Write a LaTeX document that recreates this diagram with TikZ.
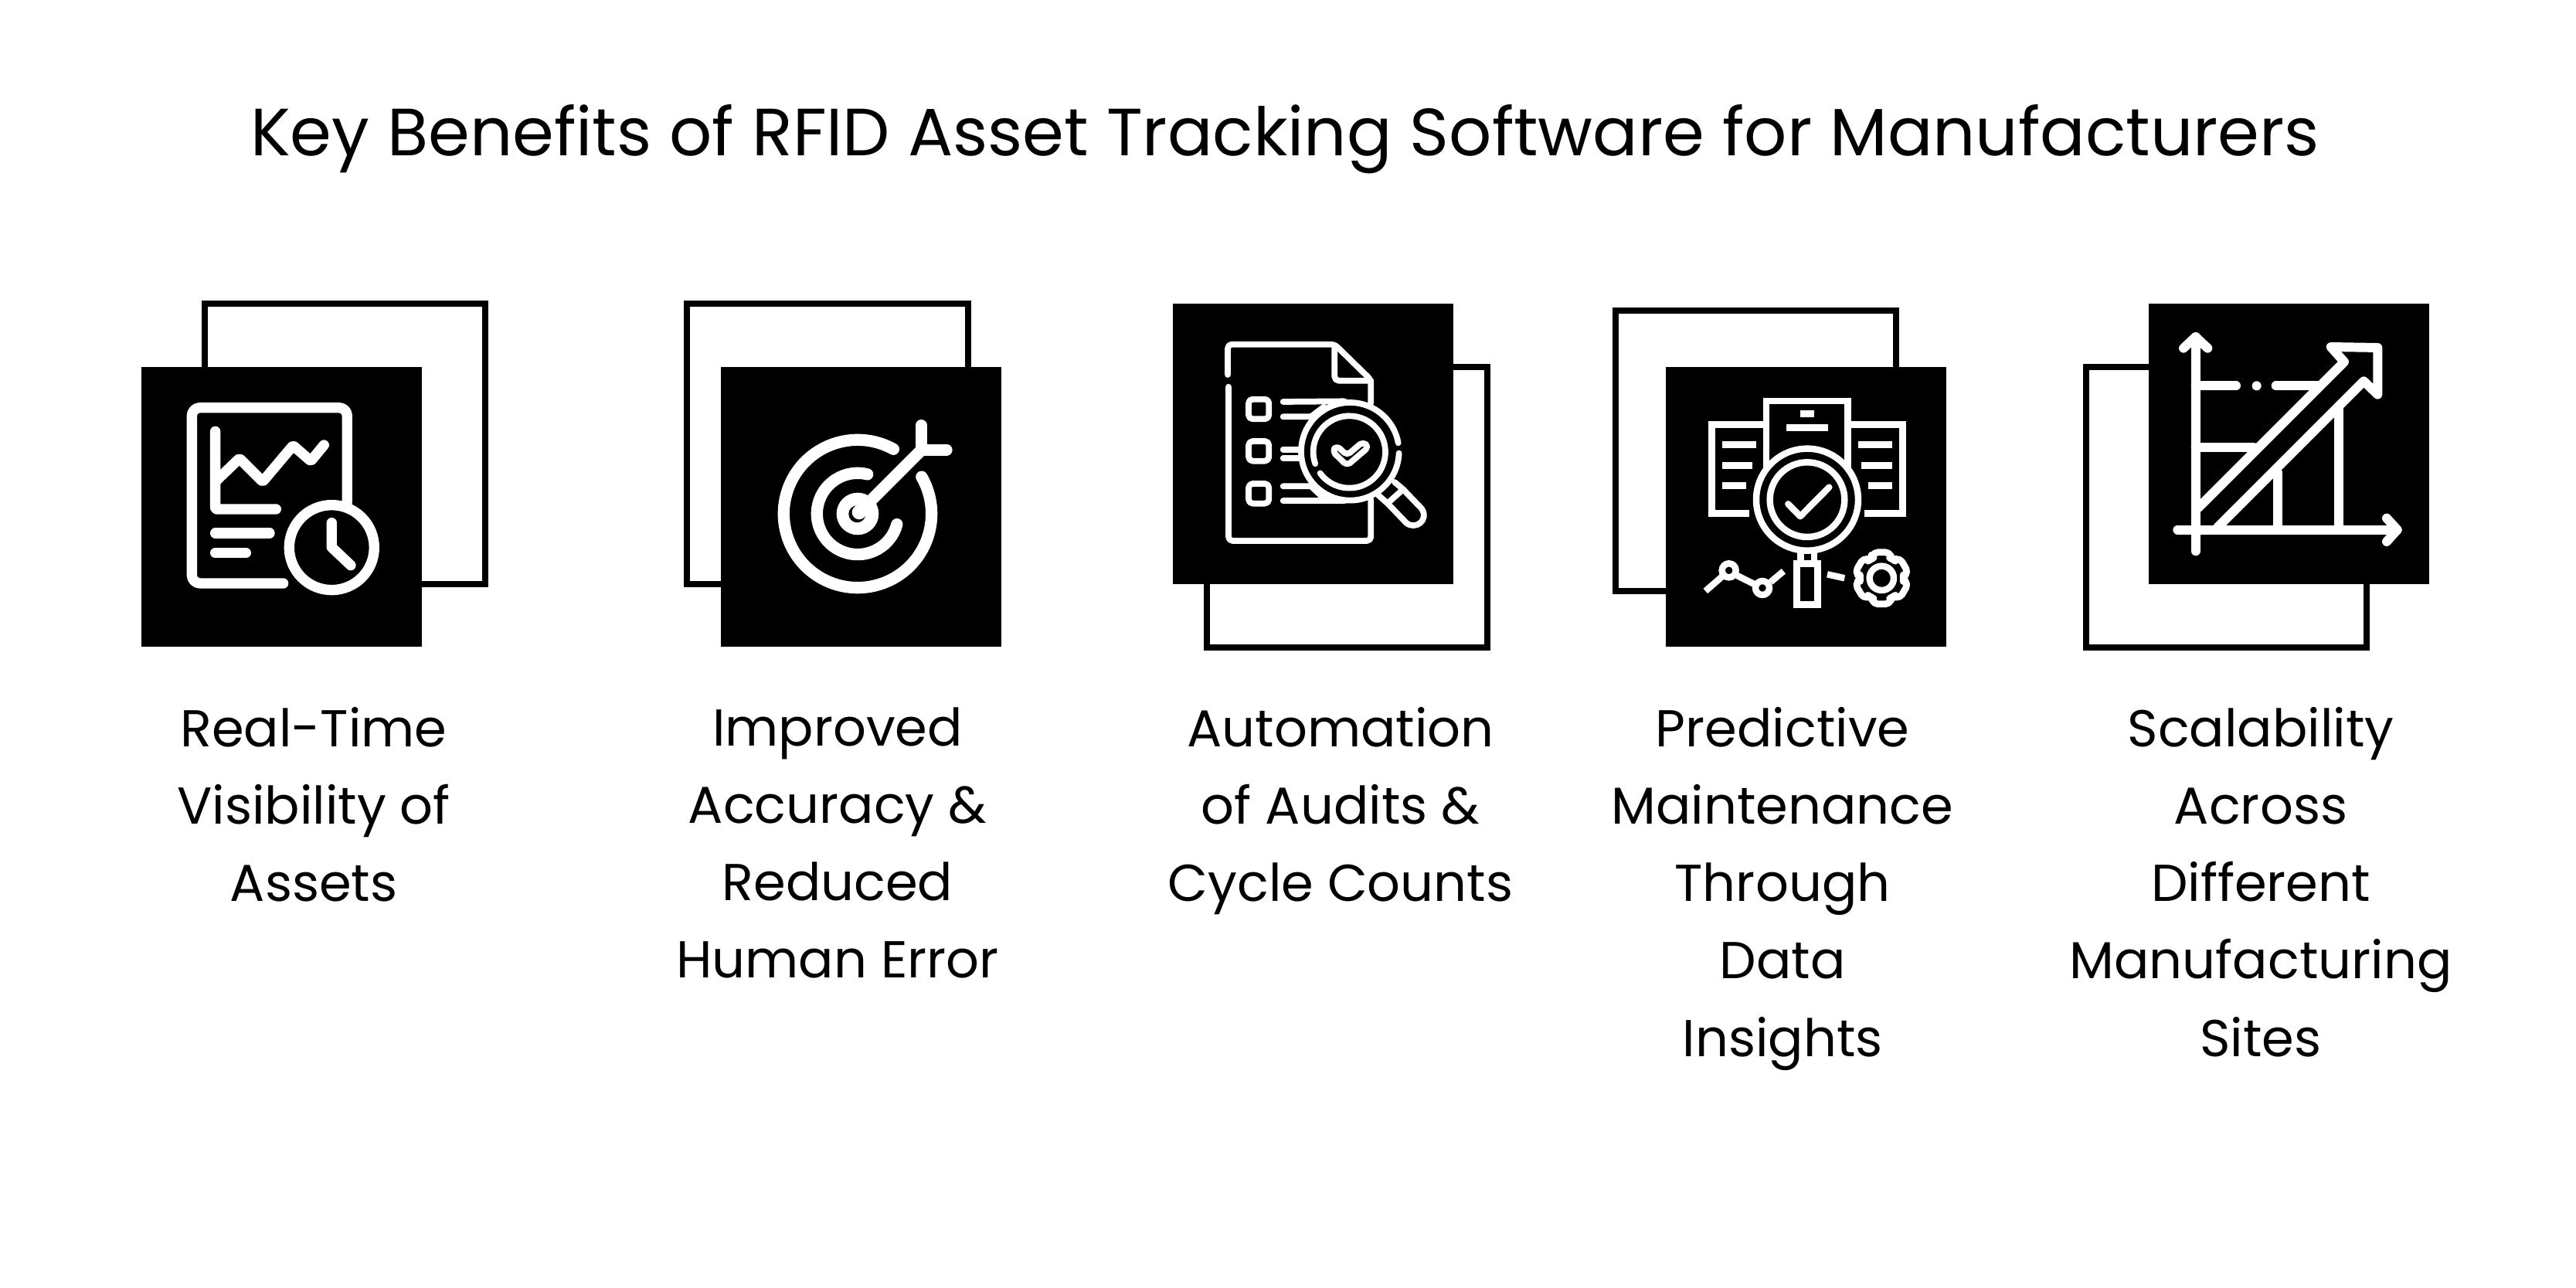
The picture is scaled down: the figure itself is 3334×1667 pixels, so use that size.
\documentclass[tikz,border=0pt]{standalone}
\usepackage{fontspec}
\setmainfont{Poppins}
\tikzset{
    backbox/.style={draw=black,line width=2.37pt,fill=white,line join=miter},
    frontbox/.style={fill=black},
    label/.style={align=center,anchor=north,font=\fontsize{19.1}{28.45}\selectfont,inner sep=0pt},
    thick line/.style={draw=white,line cap=round,line join=round,line width=3.8pt},
    thin line/.style={draw=white,line cap=round,line join=round,line width=2.2pt},
    square line/.style={draw=white,line cap=butt,line join=miter,line width=2.4pt},
}
\begin{document}
\begin{tikzpicture}[x=0.01cm,y=-0.01cm]
    \useasboundingbox (0,0) rectangle (3334,1667);
    \node (title) at (1663,180) {\fontsize{24.6}{28}\selectfont Key Benefits of RFID Asset Tracking Software for Manufacturers};

    % boxes
    \draw[backbox] (265,393) rectangle (628,756);
    \fill[frontbox] (183,475) rectangle (546,837);
    \draw[backbox] (889,393) rectangle (1253,756);
    \fill[frontbox] (933,475) rectangle (1296,837);
    \draw[backbox] (1562,475) rectangle (1925,838);
    \fill[frontbox] (1518,393) rectangle (1881,756);
    \draw[backbox] (2091,402) rectangle (2454,765);
    \fill[frontbox] (2156,475) rectangle (2519,837);
    \draw[backbox] (2700,475) rectangle (3063,838);
    \fill[frontbox] (2781,393) rectangle (3144,756);

    % report and clock
    \begin{scope}[shift={(170,380)},scale=0.3333]
        \draw[thick line,rounded corners=3pt] (590,1125) -- (235,1125) -- (235,443) -- (838,443) -- (838,810);
        \draw[thick line,rounded corners=0.5pt] (326,535) -- (326,837) -- (562,837);
        \draw[thick line,rounded corners=0.5pt] (326,730) -- (420,640) -- (510,730) -- (628,590) -- (697,650) -- (748,588);
        \draw[thick line] (326,930) -- (537,930);
        \draw[thick line] (326,1007) -- (445,1007);
        \draw[thick line] (778,986) circle[radius=165];
        \draw[thick line] (778,890) -- (778,985) -- (852,1055);
    \end{scope}

    % target
    \begin{scope}[shift={(870,380)},scale=0.3333]
        \draw[thick line,line width=4.35pt] (720,855) ++(-61:287) arc[start angle=-61,end angle=-390,radius=287];
        \draw[thick line,line width=4.35pt] (720,855) ++(-76:158) arc[start angle=-76,end angle=-345,radius=158];
        \fill[white] (720,855) circle[radius=82];
        \fill[black] (718,856) circle[radius=33];
        \fill[white] (726,849) circle[radius=28];
        \draw[thick line,line width=4.35pt] (760,815) -- (962,613);
        \draw[thick line,line width=4.35pt] (967,512) -- (967,607) -- (1065,607);
    \end{scope}

    % checklist under magnifier
    \begin{scope}[shift={(1510,380)},scale=0.3333]
        \draw[thin line,rounded corners=1.5pt] (237,315) -- (237,197) -- (652,197) -- (793,335) -- (793,425);
        \draw[thin line,rounded corners=1.5pt] (240,362) -- (240,960) -- (793,960) -- (793,800);
        \draw[thin line,rounded corners=1.5pt] (652,205) -- (652,338) -- (793,338);
        \foreach \y in {410,573,738}
            \draw[thin line,rounded corners=1.5pt] (318,\y) rectangle (397,\y+77);
        \draw[thin line] (452,420) -- (690,418);
        \draw[thin line] (452,478) -- (560,478) -- (610,440);
        \draw[thin line] (452,605) -- (520,605);
        \draw[thin line] (452,640) -- (520,640);
        \draw[thin line] (452,748) -- (560,748) -- (605,790);
        \draw[thin line] (452,805) -- (690,805);
        \draw[thin line] (712,613) ++(2:190) arc[start angle=2,end angle=350,radius=190];
        \draw[thin line] (709,615) ++(144:140) arc[start angle=144,end angle=-199,radius=140];
        \draw[thin line,rounded corners=1.5pt] (700,668) -- (643,612) -- (660,590) -- (700,628) -- (762,575) -- (785,595) -- cycle;
        \draw[thin line] (822,783) -- (858,815) -- (930,890) .. controls (965,920) and (1020,880) .. (990,835) -- (918,760) -- (885,732);
        \draw[thin line] (860,812) -- (918,760);
    \end{scope}

    % documents, magnifier, trend, gear
    \begin{scope}[shift={(2080,380)},scale=0.3333]
        \draw[square line] (618,680) -- (618,417) -- (935,417) -- (935,680);
        \draw[square line] (606,508) -- (407,508) -- (407,853) -- (553,853);
        \draw[square line] (948,508) -- (1147,508) -- (1147,853) -- (1000,853);
        \foreach \xa/\xb/\y in {447/578/587,447/565/667,447/540/745,975/1107/587,988/1107/667,1014/1107/745,751/803/467,697/857/520}
            \draw[square line] (\xa,\y) -- (\xb,\y);
        \fill[black] (777,800) circle[radius=205];
        \draw[square line] (777,800) circle[radius=198];
        \draw[square line] (777,800) circle[radius=145];
        \draw[thin line,line width=2.4pt] (703,817) -- (750,865) -- (862,752);
        \draw[square line] (751,1000) -- (751,1048);
        \draw[square line] (804,1000) -- (804,1048);
        \draw[square line] (736,1048) rectangle (818,1208);
        \draw[square line] (382,1155) -- (445,1100);
        \draw[square line] (473,1075) circle[radius=27];
        \draw[square line] (505,1095) -- (575,1130);
        \draw[square line] (603,1143) circle[radius=27];
        \draw[square line] (635,1120) -- (685,1078);
        \draw[square line] (855,1090) -- (922,1105);
        \draw[square line] (1066,1105) circle[radius=47];
        \begin{scope}[shift={(1066,1105)}]
            \draw[thin line,line width=2.5pt,rounded corners=1.5pt] (-118:84)
                \foreach \a in {-90,-30,...,210} { -- (\a-28:84) -- (\a-17:105) -- (\a+17:105) -- (\a+28:84) } -- cycle;
        \end{scope}
    \end{scope}

    % rising arrow chart
    \begin{scope}[shift={(2690,380)},scale=0.3333]
        \draw[thick line,line width=3.4pt] (455,1000) -- (455,168);
        \draw[thick line,line width=3.4pt] (408,212) -- (455,168) -- (502,212);
        \draw[thick line,line width=3.4pt] (385,917) -- (1238,917);
        \draw[thick line,line width=3.4pt] (1197,872) -- (1238,917) -- (1197,963);
        \draw[thick line,line width=3.4pt] (465,832) -- (1032,265) -- (980,207) -- (1162,210) -- (1162,392) -- (1108,340) -- (540,908);
        \draw[thick line,line width=3.4pt] (455,358) -- (612,358);
        \fill[white] (692,358) circle[radius=18];
        \draw[thick line,line width=3.4pt] (767,358) -- (935,358);
        \draw[thick line,line width=3.4pt] (455,597) -- (680,597);
        \draw[thick line,line width=3.4pt] (773,917) -- (773,695);
        \draw[thick line,line width=3.4pt] (1012,917) -- (1012,450);
    \end{scope}

    % labels
    \node[label] (visibility) at (406,915) {Real-Time\\Visibility of\\Assets};
    \node[label] (accuracy) at (1084,915) {Improved\\Accuracy \&\\Reduced\\Human Error};
    \node[label] (audits) at (1735,915) {Automation\\of Audits \&\\Cycle Counts};
    \node[label] (maintenance) at (2307,915) {Predictive\\Maintenance\\Through\\Data\\Insights};
    \node[label] (scalability) at (2926,915) {Scalability\\Across\\Different\\Manufacturing\\Sites};
\end{tikzpicture}
\end{document}
